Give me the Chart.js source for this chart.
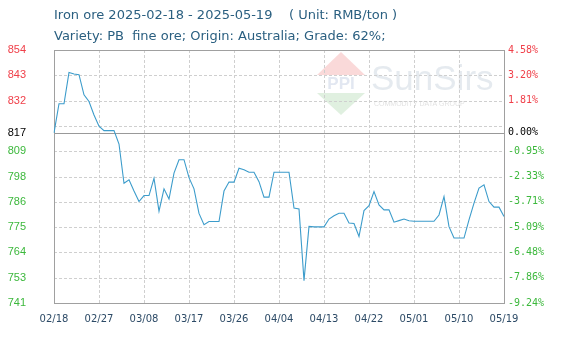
<!DOCTYPE html>
<html><head><meta charset="utf-8">
<script src="https://cdn.jsdelivr.net/npm/chart.js@4"></script>
<style>html,body{margin:0;padding:0;background:#fff;}canvas{display:block}</style>
</head><body>
<canvas id="c" width="561" height="340"></canvas>
<script>
const titleLine1 = "Iron ore 2025-02-18 - 2025-05-19    ( Unit: RMB/ton )";
const titleLine2 = "Variety: PB  fine ore; Origin: Australia; Grade: 62%;";

const dates = [
 "02/18","02/19","02/20","02/21","02/22","02/23","02/24","02/25","02/26","02/27","02/28",
 "03/01","03/02","03/03","03/04","03/05","03/06","03/07","03/08","03/09","03/10",
 "03/11","03/12","03/13","03/14","03/15","03/16","03/17","03/18","03/19","03/20",
 "03/21","03/22","03/23","03/24","03/25","03/26","03/27","03/28","03/29","03/30","03/31",
 "04/01","04/02","04/03","04/04","04/05","04/06","04/07","04/08","04/09","04/10",
 "04/11","04/12","04/13","04/14","04/15","04/16","04/17","04/18","04/19","04/20",
 "04/21","04/22","04/23","04/24","04/25","04/26","04/27","04/28","04/29","04/30",
 "05/01","05/02","05/03","05/04","05/05","05/06","05/07","05/08","05/09","05/10",
 "05/11","05/12","05/13","05/14","05/15","05/16","05/17","05/18","05/19"
];

const prices = [
 817, 830, 830, 844, 843.3, 843, 834, 831, 825, 820, 818,
 818, 818, 812, 794.5, 796, 791, 786.3, 789, 789, 796.7,
 782, 792, 787.4, 799, 805, 805, 797, 792, 781, 776,
 777.4, 777.4, 777.4, 791, 795, 795, 801.2, 800.5, 799.4, 799.4, 795.2,
 788.3, 788.3, 799.4, 799.4, 799.4, 799.4, 783.4, 783, 751, 775.2,
 775, 775, 775, 778.5, 780, 781.1, 781.1, 776.7, 776.5, 770.7,
 782.3, 784.5, 790.8, 784.8, 782.6, 782.6, 777.1, 777.8, 778.5, 777.7,
 777.5, 777.5, 777.5, 777.5, 777.5, 780.3, 788.5, 775.1, 770, 770,
 770, 778.1, 785.6, 792.3, 793.8, 786.3, 783.8, 783.8, 779.6
];

const xTickLabels = ["02/18","02/27","03/08","03/17","03/26","04/04","04/13","04/22","05/01","05/10","05/19"];

const yMin = 741, yMax = 854;
const yTickValues = [854, 842.7, 831.4, 820.1, 808.8, 797.5, 786.2, 774.9, 763.6, 752.3, 741];
const yTickLabels = ["854","843","832","","809","798","786","775","764","753","741"];
const pctTickLabels = ["4.58%","3.20%","1.81%","","-0.95%","-2.33%","-3.71%","-5.09%","-6.48%","-7.86%","-9.24%"];
const baseValue = 817;
const baseLabel = "817";
const basePctLabel = "0.00%";

const RED = '#f0404a', GREEN = '#3cb83c', BLACK = '#000';
function labelColor(v){ return v > baseValue + 0.01 ? RED : (Math.abs(v-baseValue)<0.01 ? BLACK : GREEN); }
function setTicks(scale){ scale.ticks = yTickValues.concat([baseValue]).map(v => ({value: v})); }

const decor = {
  id: 'decor',
  beforeDatasetsDraw(chart){
    const ctx = chart.ctx, a = chart.chartArea;
    const x = chart.scales.x, y = chart.scales.y;
    ctx.save();
    // watermark
    ctx.fillStyle = 'rgba(240,130,130,0.30)';
    ctx.beginPath(); ctx.moveTo(341,52); ctx.lineTo(365,75); ctx.lineTo(317,75); ctx.closePath(); ctx.fill();
    ctx.fillStyle = 'rgba(130,195,130,0.25)';
    ctx.beginPath(); ctx.moveTo(317,93); ctx.lineTo(365,93); ctx.lineTo(341,115); ctx.closePath(); ctx.fill();
    ctx.fillStyle = 'rgba(150,170,205,0.28)';
    ctx.font = 'bold 17px "Liberation Sans"'; ctx.textAlign = 'center'; ctx.textBaseline = 'middle';
    ctx.fillText('PPI', 341, 84);
    ctx.fillStyle = 'rgba(175,190,205,0.32)';
    ctx.font = '35px "Liberation Sans"'; ctx.textAlign = 'left'; ctx.textBaseline = 'alphabetic';
    ctx.fillText('SunSirs', 371, 90);
    ctx.fillStyle = 'rgba(180,180,180,0.40)';
    ctx.font = '7px "Liberation Sans"';
    ctx.fillText('COMMODITY DATA GROUP', 374, 106);
    // grid
    ctx.strokeStyle = '#cfcfcf'; ctx.lineWidth = 1; ctx.setLineDash([3,2]);
    ctx.beginPath();
    yTickValues.forEach(v => {
      const py = Math.round(y.getPixelForValue(v)) + 0.5;
      ctx.moveTo(a.left, py); ctx.lineTo(a.right, py);
    });
    dates.forEach((d,i) => {
      if (xTickLabels.includes(d)) {
        const px = Math.round(x.getPixelForValue(i)) + 0.5;
        ctx.moveTo(px, a.top); ctx.lineTo(px, a.bottom);
      }
    });
    ctx.stroke();
    ctx.setLineDash([]);
    // baseline
    ctx.strokeStyle = '#999'; ctx.beginPath();
    const by = Math.round(y.getPixelForValue(baseValue)) + 0.5;
    ctx.moveTo(a.left, by); ctx.lineTo(a.right, by); ctx.stroke();
    // border
    ctx.strokeStyle = '#a0a0a0';
    ctx.strokeRect(Math.round(a.left)+0.5, Math.round(a.top)+0.5, Math.round(a.right-a.left), Math.round(a.bottom-a.top));
    ctx.restore();
  },
  afterDraw(chart){
    const ctx = chart.ctx;
    ctx.save();
    ctx.fillStyle = '#2a5f80';
    ctx.font = '13px "DejaVu Sans"';
    ctx.textBaseline = 'middle'; ctx.textAlign = 'left';
    ctx.fillText(titleLine1, 54, 16);
    ctx.fillText(titleLine2, 54, 37);
    ctx.restore();
  }
};

new Chart(document.getElementById('c'), {
  type: 'line',
  data: {
    labels: dates,
    datasets: [{
      data: prices,
      borderColor: '#3c9ccb',
      borderWidth: 1.1,
      pointRadius: 0,
      tension: 0,
      fill: false
    }]
  },
  options: {
    responsive: false,
    animation: false,
    events: [],
    layout: { padding: { top: 50, left: 0, right: 0, bottom: 0 } },
    plugins: { legend: { display: false }, tooltip: { enabled: false }, title: { display: false } },
    scales: {
      x: {
        type: 'category',
        offset: false,
        grid: { display: false, drawTicks: false },
        border: { display: false },
        afterFit(s){ s.height = 37; },
        ticks: {
          autoSkip: false, maxRotation: 0, minRotation: 0, padding: 10,
          color: '#2c4a66',
          font: { family: 'DejaVu Sans', size: 10 },
          callback(v, i){ return xTickLabels.includes(dates[i]) ? dates[i] : ''; }
        }
      },
      y: {
        type: 'linear', position: 'left', min: yMin, max: yMax,
        grid: { display: false, drawTicks: false },
        border: { display: false },
        afterBuildTicks: setTicks,
        afterFit(s){ s.width = 54; },
        ticks: {
          padding: 28,
          font: { family: 'Liberation Sans', size: 11 },
          color: c => labelColor(c.tick.value),
          callback(v){
            if (Math.abs(v - baseValue) < 0.01) return baseLabel;
            const i = yTickValues.findIndex(t => Math.abs(t - v) < 0.01);
            return i >= 0 ? yTickLabels[i] : '';
          }
        }
      },
      y2: {
        type: 'linear', position: 'right', min: yMin, max: yMax,
        grid: { display: false, drawTicks: false },
        border: { display: false },
        afterBuildTicks: setTicks,
        afterFit(s){ s.width = 57; },
        ticks: {
          padding: 4,
          font: { family: 'DejaVu Sans Mono', size: 10 },
          color: c => labelColor(c.tick.value),
          callback(v){
            if (Math.abs(v - baseValue) < 0.01) return basePctLabel;
            const i = yTickValues.findIndex(t => Math.abs(t - v) < 0.01);
            return i >= 0 ? pctTickLabels[i] : '';
          }
        }
      }
    }
  },
  plugins: [decor]
});
</script>
</body></html>
